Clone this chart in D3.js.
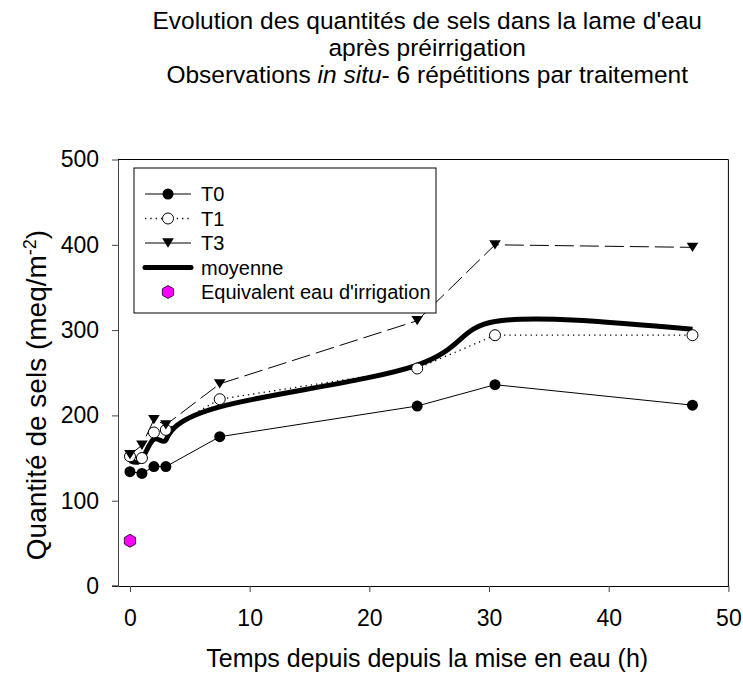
<!DOCTYPE html>
<html>
<head>
<meta charset="utf-8">
<script src="https://cdn.jsdelivr.net/npm/d3@7"></script>
<style>
  html, body { margin: 0; padding: 0; background: #fff; }
  svg { display: block; font-family: "Liberation Sans", Arial, sans-serif; }
</style>
</head>
<body>
<svg id="chart" width="743" height="673"></svg>
<script>
// ---- data ----
const hours = [0, 1, 2, 3, 7.5, 24, 30.5, 47];
const t0 = [134, 132, 140, 140, 175, 211, 236, 212];
const t1 = [152, 150, 180, 183, 219, 255, 294, 294];
const t3 = [154, 165, 195, 189, 237, 311, 400, 397];
const moyenne = [147, 149, 172, 171, 210, 259, 310, 301];
const irrigationX = [0];
const irrigationY = [53];
const xTicks = [0, 10, 20, 30, 40, 50];
const yTicks = [0, 100, 200, 300, 400, 500];
const titleLines = ["Evolution des quantités de sels dans la lame d'eau", "après préirrigation"];
const legendLabels = ["T0", "T1", "T3", "moyenne", "Equivalent eau d'irrigation"];

// ---- layout ----
const svg = d3.select("#chart");
svg.append("rect").attr("width", 743).attr("height", 673).attr("fill", "#fff");
const L = 118, R = 728.4, T = 159.5, B = 586;
const x = d3.scaleLinear().domain([-1, 50]).range([L, R]);
const y = d3.scaleLinear().domain([0, 500]).range([B, T]);
const tickFont = 23;

// frame (top & right)
svg.append("line").attr("x1", L).attr("x2", R).attr("y1", T).attr("y2", T).attr("stroke", "#000").attr("stroke-width", 1);
svg.append("line").attr("x1", R).attr("x2", R).attr("y1", T).attr("y2", B).attr("stroke", "#000").attr("stroke-width", 1);

const xAxis = svg.append("g").attr("transform", `translate(0,${B})`)
  .call(d3.axisBottom(x).tickValues(xTicks).tickSizeOuter(0).tickSizeInner(6).tickPadding(17.5));
const yAxis = svg.append("g").attr("transform", `translate(${L},0)`)
  .call(d3.axisLeft(y).tickValues(yTicks).tickSizeOuter(0).tickSizeInner(6).tickPadding(13));
[xAxis, yAxis].forEach(g => {
  g.selectAll("text").attr("font-size", tickFont).attr("font-family", "Liberation Sans, Arial, sans-serif").attr("fill", "#000");
  g.selectAll("line").attr("stroke", "#444");
  g.select(".domain").attr("stroke", "#444");
});
xAxis.select(".domain").attr("stroke", "#000");
svg.append("line").attr("x1", L - 6).attr("x2", L).attr("y1", B).attr("y2", B).attr("stroke", "#000");

// titles
const cx = (L + R) / 2 + 4;
const title = svg.append("g").attr("font-size", 24.5).attr("text-anchor", "middle").attr("fill", "#000");
title.append("text").attr("x", cx).attr("y", 29).text(titleLines[0]);
title.append("text").attr("x", cx).attr("y", 56).text(titleLines[1]);
const t3line = title.append("text").attr("x", cx).attr("y", 83);
t3line.append("tspan").text("Observations ");
t3line.append("tspan").attr("font-style", "italic").text("in situ");
t3line.append("tspan").text("- 6 répétitions par traitement");

// axis labels
svg.append("text").attr("x", cx).attr("y", 667).attr("text-anchor", "middle").attr("font-size", 25).text("Temps depuis depuis la mise en eau (h)");
const yl = svg.append("text").attr("transform", `translate(46,395) rotate(-90)`).attr("text-anchor", "middle").attr("font-size", 28);
yl.append("tspan").text("Quantité de sels (meq/m");
yl.append("tspan").attr("baseline-shift", "super").attr("font-size", 18).text("-2");
yl.append("tspan").text(")");

// ---- series ----
const pts = vals => hours.map((h, i) => [h, vals[i]]);
const line = d3.line().x(d => x(d[0])).y(d => y(d[1]));
const smooth = d3.line().x(d => x(d[0])).y(d => y(d[1])).curve(d3.curveNatural);

svg.append("path").datum(pts(t0)).attr("d", line).attr("fill", "none").attr("stroke", "#000").attr("stroke-width", 1);
svg.append("path").datum(pts(t1)).attr("d", line).attr("fill", "none").attr("stroke", "#000").attr("stroke-width", 1.3).attr("stroke-dasharray", "1.3,4");
svg.append("path").datum(pts(t3)).attr("d", line).attr("fill", "none").attr("stroke", "#000").attr("stroke-width", 1).attr("stroke-dasharray", "19,6");
svg.append("path").datum(pts(moyenne)).attr("d", smooth).attr("fill", "none").attr("stroke", "#000").attr("stroke-width", 5);

const triPath = (s) => `M${-s},${-s * 0.8}L${s},${-s * 0.8}L0,${s * 0.8}Z`;
const hexPath = (r) => d3.range(6).map(k => { const a = Math.PI / 3 * k + Math.PI / 6; return [r * Math.cos(a), r * Math.sin(a)]; })
  .map((p, k) => (k ? "L" : "M") + p[0].toFixed(2) + "," + p[1].toFixed(2)).join("") + "Z";

svg.append("g").selectAll("circle").data(pts(t0)).join("circle")
  .attr("cx", d => x(d[0])).attr("cy", d => y(d[1])).attr("r", 5.5).attr("fill", "#000");
svg.append("g").selectAll("circle").data(pts(t1)).join("circle")
  .attr("cx", d => x(d[0])).attr("cy", d => y(d[1])).attr("r", 5.5).attr("fill", "#fff").attr("stroke", "#000").attr("stroke-width", 1);
svg.append("g").selectAll("path").data(pts(t3)).join("path")
  .attr("transform", d => `translate(${x(d[0])},${y(d[1])})`).attr("d", triPath(5.8)).attr("fill", "#000");
svg.append("g").selectAll("path").data(irrigationX.map((v, i) => [v, irrigationY[i]])).join("path")
  .attr("transform", d => `translate(${x(d[0])},${y(d[1])})`).attr("d", hexPath(6.5)).attr("fill", "#ff00ff").attr("stroke", "#000").attr("stroke-width", 0.8);

// ---- legend ----
const lg = svg.append("g");
lg.append("rect").attr("x", 134).attr("y", 168).attr("width", 302).attr("height", 145).attr("fill", "#fff").attr("stroke", "#000").attr("stroke-width", 1);
const rowY = [194, 218.5, 243, 267.5, 292];
const lx1 = 145, lx2 = 191, mx = 168, tx = 201;
const styles = [
  {dash: null, w: 1}, {dash: "1.3,4", w: 1.3}, {dash: null, w: 1}, {dash: null, w: 5}
];
legendLabels.forEach((lab, i) => {
  const yy = rowY[i];
  if (i < 4) {
    const ln = lg.append("line").attr("x1", lx1).attr("x2", lx2).attr("y1", yy).attr("y2", yy).attr("stroke", "#000").attr("stroke-width", styles[i].w);
    if (styles[i].dash) ln.attr("stroke-dasharray", styles[i].dash);
    if (i === 3) ln.attr("stroke-linecap", "round");
  }
  if (i === 0) lg.append("circle").attr("cx", mx).attr("cy", yy).attr("r", 5.5).attr("fill", "#000");
  if (i === 1) lg.append("circle").attr("cx", mx).attr("cy", yy).attr("r", 5.5).attr("fill", "#fff").attr("stroke", "#000");
  if (i === 2) lg.append("path").attr("transform", `translate(${mx},${yy})`).attr("d", triPath(5.8)).attr("fill", "#000");
  if (i === 4) lg.append("path").attr("transform", `translate(${mx},${yy})`).attr("d", hexPath(6.5)).attr("fill", "#ff00ff").attr("stroke", "#000").attr("stroke-width", 0.8);
  lg.append("text").attr("x", tx).attr("y", yy).attr("dy", "0.35em").attr("font-size", 20).text(lab);
});
</script>
</body>
</html>
